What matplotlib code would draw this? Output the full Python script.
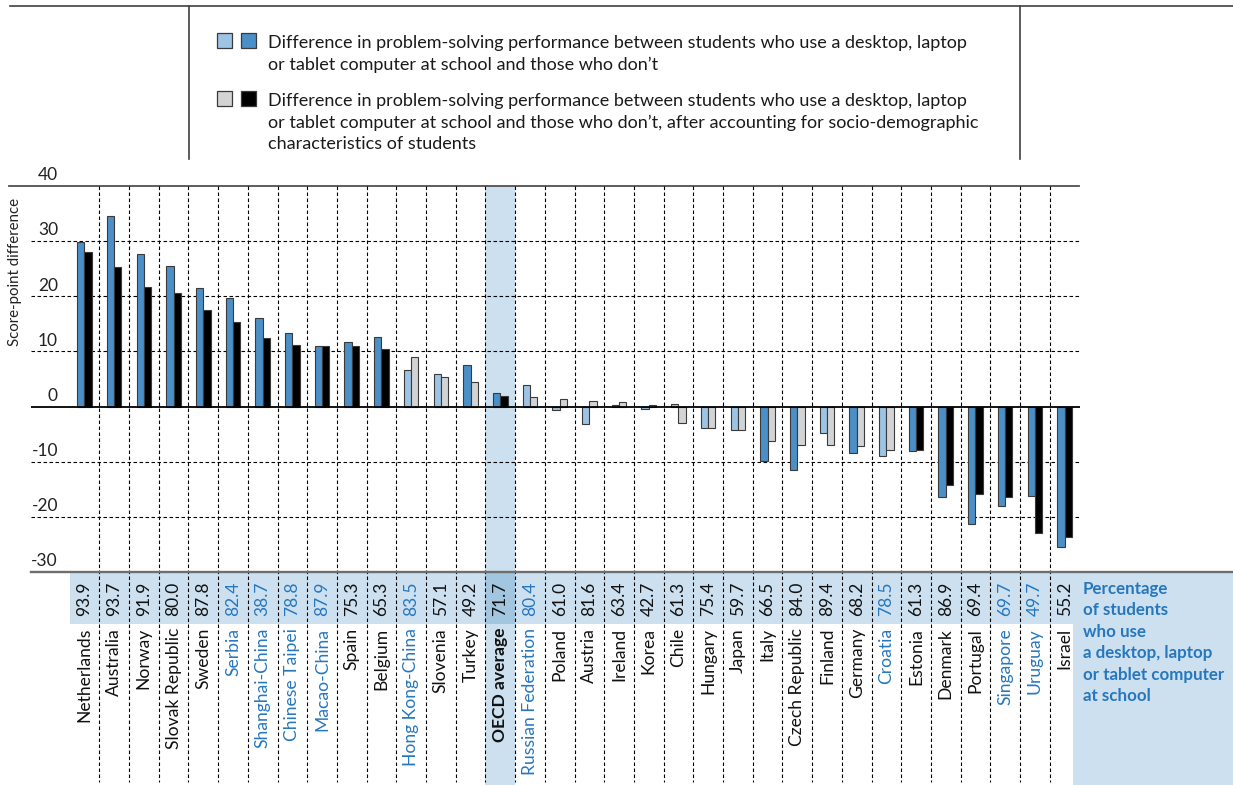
import matplotlib
matplotlib.use("Agg")
import matplotlib.pyplot as plt
import numpy as np
from matplotlib.lines import Line2D
from matplotlib.patches import Rectangle
from matplotlib.transforms import blended_transform_factory

# ===== DATA =====
countries = [
    "Netherlands", "Australia", "Norway", "Slovak Republic", "Sweden", "Serbia",
    "Shanghai-China", "Chinese Taipei", "Macao-China", "Spain", "Belgium",
    "Hong Kong-China", "Slovenia", "Turkey", "OECD average", "Russian Federation",
    "Poland", "Austria", "Ireland", "Korea", "Chile", "Hungary", "Japan", "Italy",
    "Czech Republic", "Finland", "Germany", "Croatia", "Estonia", "Denmark",
    "Portugal", "Singapore", "Uruguay", "Israel",
]
partners = ["Serbia", "Shanghai-China", "Chinese Taipei", "Macao-China",
            "Hong Kong-China", "Russian Federation", "Croatia", "Singapore",
            "Uruguay"]
diff_raw = [29.9, 34.5, 27.7, 25.5, 21.5, 19.6, 16.0, 13.3, 11.0, 11.8, 12.7,
            6.7, 5.9, 7.6, 2.5, 4.0, -0.6, -3.1, 0.3, -0.4, 0.5, -3.9, -4.3,
            -9.9, -11.5, -4.8, -8.5, -9.0, -8.1, -16.4, -21.3, -18.0, -16.3, -25.5]
diff_adj = [28.0, 25.4, 21.7, 20.6, 17.5, 15.4, 12.4, 11.1, 11.0, 11.0, 10.4,
            9.0, 5.3, 4.4, 2.0, 1.8, 1.4, 1.0, 0.9, 0.35, -2.9, -3.9, -4.2,
            -6.2, -6.9, -6.9, -7.1, -7.8, -7.8, -14.2, -15.9, -16.4, -22.9, -23.7]
raw_sig = [1] * 11 + [0, 0, 1, 1, 0, 0, 0, 0, 0, 0, 0, 0, 1, 1, 0, 1, 0, 1,
                      1, 1, 1, 1, 1]
adj_sig = [1] * 11 + [0, 0, 0, 1, 0, 0, 0, 0, 0, 0, 0, 0, 0, 0, 0, 0, 0, 1,
                      1, 1, 1, 1, 1]
pct_use = [93.9, 93.7, 91.9, 80.0, 87.8, 82.4, 38.7, 78.8, 87.9, 75.3, 65.3,
           83.5, 57.1, 49.2, 71.7, 80.4, 61.0, 81.6, 63.4, 42.7, 61.3, 75.4,
           59.7, 66.5, 84.0, 89.4, 68.2, 78.5, 61.3, 86.9, 69.4, 69.7, 49.7, 55.2]
yticks = [40, 30, 20, 10, 0, -10, -20, -30]

legend_lines = [
    ["Difference in problem-solving performance between students who use a desktop, laptop",
     "or tablet computer at school and those who don\u2019t"],
    ["Difference in problem-solving performance between students who use a desktop, laptop",
     "or tablet computer at school and those who don\u2019t, after accounting for socio-demographic",
     "characteristics of students"],
]
panel_lines = ["Percentage", "of students", "who use", "a desktop, laptop",
               "or tablet computer", "at school"]

# ===== STYLE =====
DARK_BLUE = "#4a8fc7"
LIGHT_BLUE = "#9dc4e4"
LIGHT_GREY = "#d2d3d4"
BLACK = "#000000"
EDGE = "#3a3a3a"
BAND = "#cce0ef"
BAND_DARK = "#a2c5e0"
TEXT_BLUE = "#2677be"

plt.rcParams["font.family"] = ["Lato", "DejaVu Sans"]

W, H = 1233, 785


def fx(px):
    return px / W


def fy(px):
    return 1 - px / H


fig = plt.figure(figsize=(W / 100, H / 100), dpi=100)
ax = fig.add_axes([fx(31), fy(572), fx(1080) - fx(31), fy(186) - fy(572)])
ax.patch.set_visible(False)
n = len(countries)
x = np.arange(n)
bw = 0.245

ax.bar(x - bw / 2, diff_raw, width=bw,
       color=[DARK_BLUE if s else LIGHT_BLUE for s in raw_sig],
       edgecolor=EDGE, linewidth=0.8, zorder=3)
ax.bar(x + bw / 2, diff_adj, width=bw,
       color=[BLACK if s else LIGHT_GREY for s in adj_sig],
       edgecolor=EDGE, linewidth=0.8, zorder=3)

ax.set_xlim(-1.80, 33.52)
ax.set_ylim(-30, 40)
ax.set_xticks([])
ax.set_yticks([])
for sp in ax.spines.values():
    sp.set_visible(False)

trans = blended_transform_factory(ax.transData, fig.transFigure)
ytrans = blended_transform_factory(fig.transFigure, ax.transData)
dash = (0, (3.2, 2.2))

# horizontal grid
for v in yticks[1:-1]:
    if v == 0:
        ax.axhline(0, color="black", lw=1.3, zorder=4)
    else:
        ax.axhline(v, color="black", lw=0.8, ls=dash, zorder=1)
ax.add_line(Line2D([-2.54, 33.5], [40, 40], color="#505050", lw=1.3,
                   clip_on=False, zorder=2))
ax.add_line(Line2D([-1.80, 40], [-30, -30], color="#6e6e6e", lw=1.7,
                   clip_on=False, zorder=4))

# y tick labels sit above their lines
for v in yticks:
    ax.text(fx(58), v + 0.5, f"{v}", transform=ytrans, ha="right", va="bottom",
            fontsize=12.5, color="#222222")
fig.text(fx(15), fy(272), "Score-point difference", rotation=90,
         ha="center", va="center", fontsize=10.8, color="#222222")

# category separators
for i in range(n - 1):
    ax.add_line(Line2D([i + 0.5, i + 0.5], [fy(186), fy(782)], transform=trans,
                       color="black", lw=0.8, ls=dash, clip_on=False, zorder=2))

# OECD column highlight, percentage band, right panel
oecd = countries.index("OECD average")
ax.add_patch(Rectangle((oecd - 0.5, fy(785)), 1, fy(186) - fy(785),
                       transform=trans, color=BAND, lw=0, clip_on=False, zorder=0))
ax.add_patch(Rectangle((-0.5, fy(624)), 33.8, fy(572) - fy(624),
                       transform=trans, color=BAND, lw=0, clip_on=False, zorder=0.2))
ax.add_patch(Rectangle((oecd - 0.5, fy(624)), 1, fy(572) - fy(624),
                       transform=trans, color=BAND_DARK, lw=0, clip_on=False,
                       zorder=0.3))
ax.add_patch(Rectangle((33.3, 0), 10, fy(572), transform=trans, color=BAND,
                       lw=0, clip_on=False, zorder=0.2))

for i, (name, p) in enumerate(zip(countries, pct_use)):
    col = TEXT_BLUE if name in partners else "#111111"
    ax.text(i, fy(599), f"{p:.1f}", transform=trans, rotation=90, ha="center",
            va="center", fontsize=12.5, color=col, zorder=5)
    ax.text(i, fy(628), name, transform=trans, rotation=90, ha="center",
            va="top", fontsize=12.6, color=col, zorder=5,
            fontweight="bold" if name == "OECD average" else "normal")

for k, line in enumerate(panel_lines):
    fig.text(fx(1083), fy(589 + 21.4 * k), line, ha="left", va="center",
             fontsize=12.2, fontweight="bold", color=TEXT_BLUE)

# legend box
fig.add_artist(Line2D([fx(10), 1], [fy(6), fy(6)], transform=fig.transFigure,
                      color="#404040", lw=1.2))
for xp in (188.7, 1019.7):
    fig.add_artist(Line2D([fx(xp), fx(xp)], [fy(6), fy(159)],
                          transform=fig.transFigure, color="#404040", lw=1.2))
swatches = [(LIGHT_BLUE, DARK_BLUE), (LIGHT_GREY, BLACK)]
for (c1, c2), lines, ytop, ytxt in zip(swatches, legend_lines, (33, 91), (43, 101)):
    for xs, c in ((217, c1), (241, c2)):
        fig.add_artist(Rectangle((fx(xs), fy(ytop + 15)), fx(15), 15 / H,
                                 transform=fig.transFigure, facecolor=c,
                                 edgecolor=EDGE, lw=0.9))
    for k, line in enumerate(lines):
        fig.text(fx(268), fy(ytxt + 21.5 * k), line, ha="left", va="center",
                 fontsize=12.95, color="#1a1a1a")

fig.savefig("out.png", dpi=100)
